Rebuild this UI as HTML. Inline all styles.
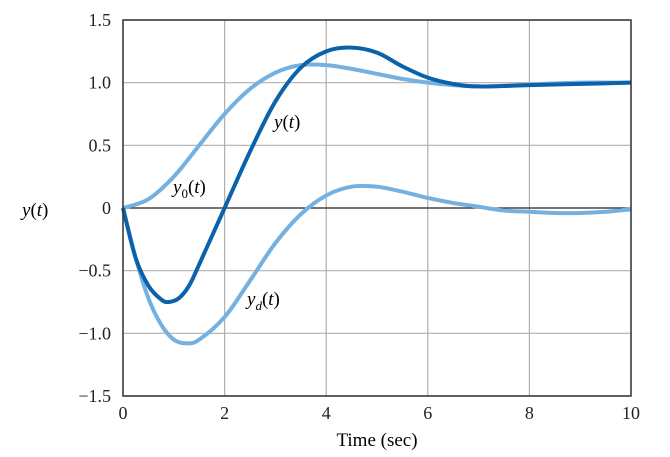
<!DOCTYPE html>
<html><head><meta charset="utf-8"><style>
body{margin:0;background:#fff}
svg{display:block;font-family:"Liberation Serif",serif}
</style></head><body>
<svg id="chart" width="670" height="457" viewBox="0 0 670 457">
<g id="grid"></g>
<g id="series"></g>
<g id="axes"></g>
</svg>
<script>
const xTicks=[0,2,4,6,8,10];
const yTicks=[1.5,1.0,0.5,0,-0.5,-1.0,-1.5];
const yTickLabels=["1.5","1.0","0.5","0","\u22120.5","\u22121.0","\u22121.5"];
const tY0=[0,0.5,1,1.5,2,2.5,3,3.5,4,4.5,5,5.5,6,6.5,7,7.5,8,9,10];
const vY0=[0,0.07,0.25,0.5,0.75,0.95,1.08,1.14,1.14,1.11,1.07,1.03,1.0,0.98,0.97,0.975,0.985,1.0,1.0];
const tY=[0,0.25,0.5,0.75,0.9,1.1,1.3,1.5,2,2.5,3,3.5,4,4.5,5,5.5,6,6.5,7,8,9,10];
const vY=[0,-0.4,-0.62,-0.73,-0.75,-0.72,-0.62,-0.45,0,0.45,0.85,1.12,1.25,1.28,1.24,1.13,1.04,0.99,0.97,0.98,0.99,1.0];
const tYd=[0,0.25,0.5,0.75,1,1.25,1.5,2,2.5,3,3.5,4,4.5,5,5.5,6,6.5,7,7.5,8,8.5,9,9.5,10];
const vYd=[0,-0.4,-0.72,-0.93,-1.05,-1.08,-1.05,-0.87,-0.58,-0.28,-0.05,0.1,0.17,0.17,0.13,0.08,0.04,0.01,-0.02,-0.03,-0.04,-0.04,-0.03,-0.01];
const X0=123,X1=631,Y0=20,Y1=396;
const xs=t=>X0+(t-0)/(10)*(X1-X0);
const ys=v=>Y0+(1.5-v)/3*(Y1-Y0);
const NS="http://www.w3.org/2000/svg";
function mk(tag,attrs,parent){const e=document.createElementNS(NS,tag);for(const k in attrs)e.setAttribute(k,attrs[k]);parent.appendChild(e);return e;}
const grid=document.getElementById('grid'),axes=document.getElementById('axes'),series=document.getElementById('series');
xTicks.forEach(t=>{
 const l=mk('line',{x1:xs(t),x2:xs(t),y1:Y0,y2:Y1,stroke:'#b0b0b0','stroke-width':1.2},grid);
 
 
 const tx=mk('text',{x:xs(t),y:Y1+23,'text-anchor':'middle','font-size':18,fill:'#222'},axes);
 tx.textContent=t;
 
 
});
yTicks.forEach((v,i)=>{
 const l=mk('line',{x1:X0,x2:X1,y1:ys(v),y2:ys(v),stroke:v===0?'#222':'#b0b0b0','stroke-width':v===0?1.3:1.2},grid);
 
 
 const tx=mk('text',{x:X0-12,y:ys(v)+6,'text-anchor':'end','font-size':18,fill:'#222'},axes);
 tx.textContent=yTickLabels[i];
 
 
});
const frame=mk('rect',{x:X0,y:Y0,width:X1-X0,height:Y1-Y0,fill:'none',stroke:'#333','stroke-width':1.5},axes);


function path(ts,vs){
 const p=ts.map((t,i)=>[xs(t),ys(vs[i])]);
 let d='M'+p[0][0]+','+p[0][1];
 for(let i=0;i<p.length-1;i++){
  const a=p[Math.max(i-1,0)],b=p[i],c=p[i+1],e=p[Math.min(i+2,p.length-1)];
  const c1=[b[0]+(c[0]-a[0])/6,b[1]+(c[1]-a[1])/6],c2=[c[0]-(e[0]-b[0])/6,c[1]-(e[1]-b[1])/6];
  d+=' C'+c1+' '+c2+' '+c;
 }
 return d;
}
const p0=mk('path',{d:path(tY0,vY0),fill:'none',stroke:'#74b1e0','stroke-width':4},series);


const pd=mk('path',{d:path(tYd,vYd),fill:'none',stroke:'#74b1e0','stroke-width':4},series);


const py=mk('path',{d:path(tY,vY),fill:'none',stroke:'#0b62aa','stroke-width':4},series);


</script>
<svg style="position:absolute;left:0;top:0" width="670" height="457">
<text x="22" y="216" font-size="19" font-style="italic" font-family="Liberation Serif,serif">y<tspan font-style="normal">(</tspan>t<tspan font-style="normal">)</tspan></text>
<text x="377" y="446" text-anchor="middle" font-size="19" font-family="Liberation Serif,serif">Time (sec)</text>
<text x="274" y="128" font-size="19" font-style="italic" font-family="Liberation Serif,serif">y<tspan font-style="normal">(</tspan>t<tspan font-style="normal">)</tspan></text>
<text x="173" y="193" font-size="19" font-style="italic" font-family="Liberation Serif,serif">y<tspan font-style="normal" font-size="13" dy="5">0</tspan><tspan font-style="normal" dy="-5">(</tspan>t<tspan font-style="normal">)</tspan></text>
<text x="247" y="305" font-size="19" font-style="italic" font-family="Liberation Serif,serif">y<tspan font-size="13" dy="5">d</tspan><tspan font-style="normal" dy="-5">(</tspan>t<tspan font-style="normal">)</tspan></text>
</svg>
</body></html>
